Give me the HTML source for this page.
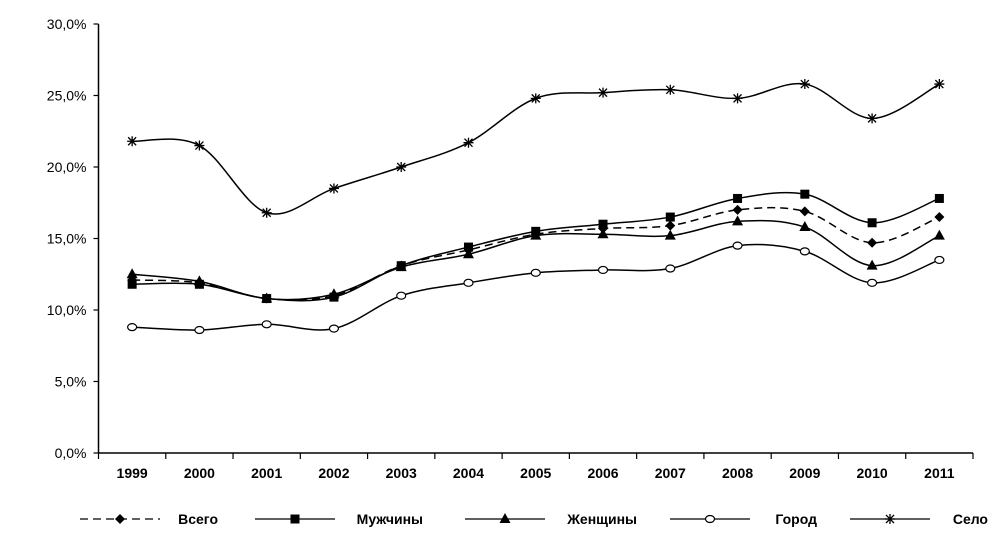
<!DOCTYPE html>
<html><head><meta charset="utf-8"><style>
body{margin:0;background:#fff;}
svg{display:block;font-family:"Liberation Sans",Arial,sans-serif;}
</style></head><body>
<svg id="chart" width="1000" height="547" viewBox="0 0 1000 547" xmlns="http://www.w3.org/2000/svg"></svg>
<script>
const years=["1999","2000","2001","2002","2003","2004","2005","2006","2007","2008","2009","2010","2011"];
const vsego=[12.1,11.9,10.8,11.0,13.1,14.2,15.3,15.7,15.9,17.0,16.9,14.7,16.5];
const muzh=[11.8,11.8,10.8,10.9,13.1,14.4,15.5,16.0,16.5,17.8,18.1,16.1,17.8];
const zhen=[12.5,12.0,10.8,11.1,13.0,13.9,15.2,15.3,15.2,16.2,15.8,13.1,15.2];
const gorod=[8.8,8.6,9.0,8.7,11.0,11.9,12.6,12.8,12.9,14.5,14.1,11.9,13.5];
const selo=[21.8,21.5,16.8,18.5,20.0,21.7,24.8,25.2,25.4,24.8,25.8,23.4,25.8];
const yTicks=[0,5,10,15,20,25,30];
const seriesNames=["Всего","Мужчины","Женщины","Город","Село"];

const NS="http://www.w3.org/2000/svg";
const svg=document.getElementById('chart');
const L=98.5,R=973,T=24,B=453,yMax=30;
const band=(R-L)/years.length;
const x=i=>L+band*(i+0.5);
const y=v=>B-(v/yMax)*(B-T);
function mk(tag,attrs,parent){const e=document.createElementNS(NS,tag);for(const k in attrs)e.setAttribute(k,attrs[k]);(parent||svg).appendChild(e);return e;}

// axes
let ax=mk('line',{x1:L,y1:T,x2:L,y2:B,stroke:'#000','stroke-width':1.5});


ax=mk('line',{x1:L,y1:B,x2:R,y2:B,stroke:'#000','stroke-width':1.5});


yTicks.forEach(t=>{
  mk('line',{x1:L-5,y1:y(t),x2:L,y2:y(t),stroke:'#000','stroke-width':1.2});
  const tx=mk('text',{x:L-12,y:y(t)+5,'text-anchor':'end','font-size':14});
  tx.textContent=t.toFixed(1).replace('.',',')+'%';
  
  
});
for(let i=0;i<=years.length;i++){mk('line',{x1:L+band*i,y1:B,x2:L+band*i,y2:B+6,stroke:'#000','stroke-width':1.2});}
years.forEach((yr,i)=>{
  const tx=mk('text',{x:x(i),y:B+25,'text-anchor':'middle','font-size':14,'font-weight':'bold'});
  tx.textContent=yr;
  
  
});

function smooth(pts){
  let d=`M${pts[0][0]},${pts[0][1]}`;
  for(let i=0;i<pts.length-1;i++){
    const p0=pts[i-1]||pts[i],p1=pts[i],p2=pts[i+1],p3=pts[i+2]||p2;
    const c1=[p1[0]+(p2[0]-p0[0])/6,p1[1]+(p2[1]-p0[1])/6];
    const c2=[p2[0]-(p3[0]-p1[0])/6,p2[1]-(p3[1]-p1[1])/6];
    d+=` C${c1[0]},${c1[1]} ${c2[0]},${c2[1]} ${p2[0]},${p2[1]}`;
  }
  return d;
}
function marker(type,cx,cy,g){
  let e;
  if(type==='diamond')e=mk('polygon',{points:`${cx},${cy-5} ${cx+5},${cy} ${cx},${cy+5} ${cx-5},${cy}`,fill:'#000'},g);
  else if(type==='square')e=mk('rect',{x:cx-4.5,y:cy-4.5,width:9,height:9,fill:'#000'},g);
  else if(type==='triangle')e=mk('polygon',{points:`${cx},${cy-6} ${cx+5.5},${cy+4} ${cx-5.5},${cy+4}`,fill:'#000'},g);
  else if(type==='circle')e=mk('ellipse',{cx:cx,cy:cy,rx:4.5,ry:3.5,fill:'#fff',stroke:'#000','stroke-width':1.2},g);
  else {e=mk('path',{d:`M${cx-5},${cy}H${cx+5}M${cx-4},${cy-4}L${cx+4},${cy+4}M${cx-4},${cy+4}L${cx+4},${cy-4}M${cx},${cy-5}V${cy+5}`,stroke:'#000','stroke-width':1.3,fill:'none'},g);}
  return e;
}
const series=[
  {name:'vsego',data:vsego,m:'diamond',dash:'8,5'},
  {name:'muzhchiny',data:muzh,m:'square',dash:null},
  {name:'zhenshchiny',data:zhen,m:'triangle',dash:null},
  {name:'gorod',data:gorod,m:'circle',dash:null},
  {name:'selo',data:selo,m:'star',dash:null}
];
series.forEach(s=>{
  const g=mk('g',{});
  
  
  const pts=s.data.map((v,i)=>[x(i),y(v)]);
  const p=mk('path',{d:smooth(pts),fill:'none',stroke:'#000','stroke-width':1.5},g);
  if(s.dash)p.setAttribute('stroke-dasharray',s.dash);
  
  
  pts.forEach(pt=>{const m=marker(s.m,pt[0],pt[1],g);
    
    });
});
// legend
const lx=[80,255,465,670,850];
const tX=[218,423,637,817,988];
series.forEach((s,i)=>{
  const g=mk('g',{});
  
  
  const l=mk('line',{x1:lx[i],y1:519,x2:lx[i]+80,y2:519,stroke:'#000','stroke-width':1.3},g);
  if(s.dash)l.setAttribute('stroke-dasharray','8,5');
  marker(s.m,lx[i]+40,519,g);
  const t=mk('text',{x:tX[i],y:524,'text-anchor':'end','font-size':14,'font-weight':'bold'},g);
  t.textContent=seriesNames[i];
});
</script>
</body></html>
